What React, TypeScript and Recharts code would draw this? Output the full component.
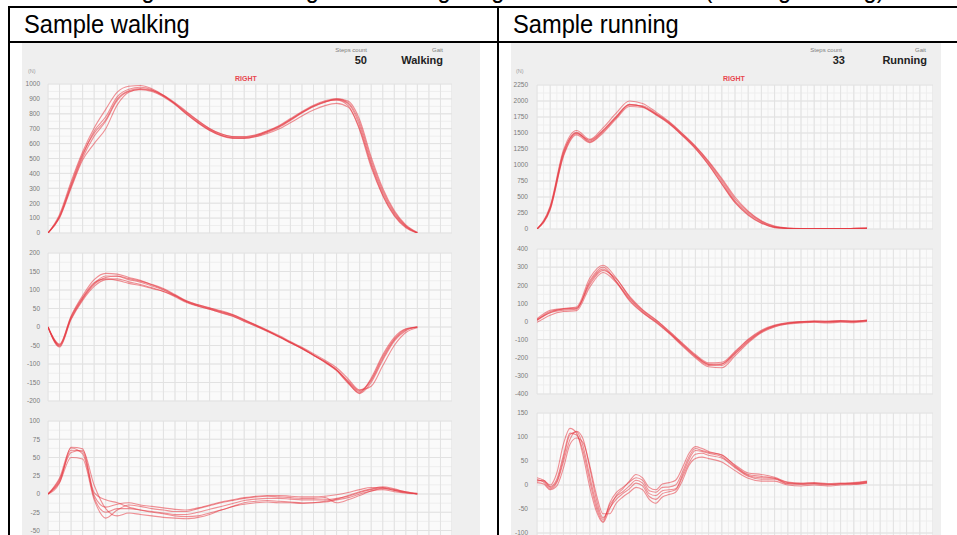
import React from "react";
import { LineChart, Line, XAxis, YAxis, CartesianGrid } from "recharts";

// ---------- Walking (left) ----------
const walkX = [0,1,2,3,4,5,6,7,8,9,10,11,12,13,14,15,16,17,18,19,20,21,22,23,24,25,26,27,28,29,30,31,32];

const walkForce = [
  [0,110,320,520,685,780,915,965,978,962,922,868,805,745,695,658,640,640,653,680,713,760,808,850,880,895,868,720,470,270,130,45,0],
  [0,125,345,545,705,830,945,985,990,968,925,865,798,738,688,652,634,634,648,675,708,755,805,848,878,900,885,760,510,300,150,55,5],
  [0,100,300,490,600,700,860,945,965,955,918,870,810,752,700,664,646,644,656,682,716,762,810,852,882,892,855,690,440,250,115,35,0],
  [0,115,330,530,670,760,900,955,970,958,925,875,815,755,702,666,648,648,660,686,720,768,816,858,888,900,875,740,490,285,140,50,2],
  [0,105,310,505,650,750,890,950,962,950,915,862,798,740,690,655,638,636,646,668,698,740,785,825,855,870,845,700,455,255,120,40,0],
];

const walkShear = [
  [0,-50,25,78,118,138,137,128,121,111,100,85,68,58,50,41,32,18,5,-10,-25,-41,-57,-75,-93,-115,-148,-175,-145,-85,-35,-8,0],
  [0,-48,30,85,128,145,143,134,126,114,102,86,70,60,52,44,34,20,6,-8,-23,-39,-55,-72,-90,-110,-140,-170,-160,-105,-50,-15,-2],
  [0,-54,20,72,110,128,130,122,115,106,96,82,66,56,48,38,29,15,2,-12,-27,-43,-59,-77,-96,-118,-152,-178,-138,-75,-28,-5,0],
  [0,-52,22,75,115,134,138,131,124,115,104,88,71,60,51,42,33,19,5,-10,-26,-42,-58,-76,-94,-117,-150,-180,-150,-90,-38,-10,0],
  [0,-46,28,80,120,130,126,118,112,104,96,84,68,57,48,39,30,16,3,-11,-26,-42,-58,-76,-95,-116,-145,-172,-142,-80,-32,-6,0],
];

const walkLateral = [
  [0,18,60,58,-5,-25,-20,-20,-22,-24,-26,-28,-28,-25,-21,-17,-13,-9,-7,-6,-6,-7,-8,-8,-8,-6,-3,2,6,9,6,3,0],
  [0,15,64,62,2,-8,-12,-18,-22,-25,-27,-30,-31,-30,-26,-22,-17,-12,-10,-9,-10,-11,-12,-12,-11,-8,-5,0,4,8,5,2,0],
  [0,20,57,60,12,-20,-30,-26,-28,-30,-32,-33,-34,-32,-28,-22,-17,-14,-12,-11,-12,-12,-13,-12,-10,-7,-2,3,7,10,7,3,1],
  [0,16,50,48,-8,-33,-22,-15,-17,-20,-22,-24,-24,-20,-16,-12,-9,-6,-4,-3,-4,-5,-6,-6,-5,-12,-8,-2,4,6,3,1,0],
  [0,22,63,55,-2,-18,-14,-12,-15,-17,-19,-21,-22,-19,-15,-11,-8,-5,-3,-2,-2,-3,-4,-4,-3,-1,2,6,9,8,5,2,0],
];

const walkTicks1 = [0,100,200,300,400,500,600,700,800,900,1000];
const walkTicks2 = [-200,-150,-100,-50,0,50,100,150,200];
const walkTicks3 = [-100,-75,-50,-25,0,25,50,75,100];

// ---------- Running (right) ----------
const runX = [0,1,2,3,4,5,6,7,8,9,10,11,12,13,14,15,16,17,18,19,20,21,22,23,24,25];

const runForce = [
  [0,330,1180,1510,1375,1535,1750,1945,1915,1800,1660,1475,1275,1030,740,440,245,110,30,10,5,5,5,5,8,12],
  [0,360,1230,1540,1400,1580,1810,2000,1960,1830,1680,1495,1290,1050,770,470,265,120,38,12,6,5,6,6,9,14],
  [0,300,1130,1470,1350,1500,1720,1915,1900,1785,1645,1465,1260,1005,710,420,225,95,25,8,4,4,5,4,7,10],
  [0,340,1200,1500,1360,1520,1740,1935,1925,1810,1670,1490,1295,1060,790,500,280,130,45,15,7,6,6,6,9,13],
  [0,310,1150,1490,1390,1545,1760,1950,1910,1790,1650,1460,1255,1000,700,410,215,90,22,8,5,4,4,5,7,11],
];

const runShear = [
  [5,50,70,75,215,290,222,127,56,2,-60,-126,-190,-235,-233,-175,-108,-55,-25,-10,-3,0,-2,2,0,5],
  [15,62,72,80,240,310,240,135,62,8,-52,-118,-182,-228,-225,-165,-98,-48,-20,-6,0,3,2,5,3,8],
  [-5,35,55,60,190,270,215,120,50,-5,-66,-134,-200,-250,-255,-190,-118,-62,-30,-14,-8,-4,-8,-4,-6,0],
  [8,55,68,72,205,282,235,140,66,10,-55,-122,-188,-238,-242,-180,-112,-58,-27,-12,-5,-2,-4,0,-2,4],
  [10,48,62,68,225,300,220,115,48,-2,-62,-130,-195,-242,-236,-170,-102,-52,-22,-8,-2,2,0,4,2,6],
];

const runX3 = [0,0.5,1,1.5,2,2.5,3,3.5,4,4.5,5,5.5,6,6.5,7,7.5,8,8.5,9,9.5,10,10.5,11,11.5,12,12.5,13,14,15,16,17,18,19,20,21,22,23,24,25];

const runLateral = [
  [10,8,-5,8,55,105,111,80,18,-40,-72,-42,-24,-14,-2,10,4,-18,-22,-12,-10,-8,20,52,72,70,66,59,38,20,15,14,3,2,3,1,2,3,6],
  [15,10,0,25,85,118,108,60,-5,-55,-78,-50,-22,-8,8,22,15,-5,-10,2,5,10,35,65,80,76,70,62,42,25,22,16,6,4,5,3,4,5,8],
  [5,2,-10,-2,35,85,98,88,40,-20,-60,-60,-38,-25,-15,-5,-10,-30,-38,-25,-20,-15,8,40,55,58,55,48,30,14,8,8,0,-2,0,-2,0,1,4],
  [12,6,-8,5,48,95,112,95,35,-30,-68,-48,-30,-18,-8,4,-2,-24,-30,-18,-14,-10,15,45,64,66,62,56,36,18,12,12,2,1,2,0,2,2,5],
  [8,10,-3,12,62,108,104,70,8,-48,-76,-38,-16,-5,6,15,10,-12,-15,-5,-4,0,26,58,76,72,68,63,40,22,18,14,5,3,4,2,3,4,7],
];

const runTicks1 = [0,250,500,750,1000,1250,1500,1750,2000,2250];
const runTicks2 = [-400,-300,-200,-100,0,100,200,300,400];
const runTicks3 = [-150,-100,-50,0,50,100,150];

// ---------- helpers ----------
function steps(a: number, b: number, s: number): number[] {
  const out: number[] = [];
  for (let v = a; v <= b + 1e-9; v += s) out.push(Math.round(v * 1000) / 1000);
  return out;
}

const FONT = "'Liberation Sans', Arial, Helvetica, sans-serif";
const LINE = "#e5363f";

type Spec = {
  plotLeft: number; plotTop: number; plotW: number; plotH: number;
  yw: number; gap: number;
  xs: number[]; series: number[][];
  xMax: number; xMajorStep: number; xMinorStep: number;
  yDomain: [number, number]; yTicks: number[]; yMinorStep: number;
};

function Trace({ s }: { s: Spec }) {
  const rows = s.xs.map((x, i) => {
    const r: Record<string, number> = { x };
    s.series.forEach((arr, k) => { r["t" + k] = arr[i]; });
    return r;
  });
  const mt = 6, mb = 6;
  const [y0, y1] = s.yDomain;
  const yPx = (v: number) => mt + ((y1 - v) / (y1 - y0)) * s.plotH;
  const xPx = (u: number) => s.yw + (u / s.xMax) * s.plotW;
  const hMinor = steps(y0, y1, s.yMinorStep).map(yPx);
  const hMajor = s.yTicks.map(yPx);
  const vMinor = steps(0, s.xMax, s.xMinorStep).map(xPx);
  const vMajor = steps(0, s.xMax, s.xMajorStep).map(xPx);
  return (
    <div style={{ position: "absolute", left: s.plotLeft - s.yw, top: s.plotTop - mt }}>
      <LineChart width={s.yw + s.plotW} height={s.plotH + mt + mb} data={rows}
        margin={{ top: mt, right: 0, bottom: mb, left: 0 }}>
        <CartesianGrid fill="#fafafa" fillOpacity={1} stroke="#eeeeee" strokeWidth={1}
          horizontalPoints={hMinor} verticalPoints={vMinor} />
        <CartesianGrid stroke="#e2e2e2" strokeWidth={1}
          horizontalPoints={hMajor} verticalPoints={vMajor} />
        <XAxis type="number" dataKey="x" domain={[0, s.xMax]} hide allowDataOverflow />
        <YAxis type="number" domain={s.yDomain} ticks={s.yTicks} interval={0} width={s.yw}
          tickSize={0} tickMargin={s.gap} axisLine={false} tickLine={false} allowDataOverflow
          tick={{ fontSize: 6.5, fill: "#7a7a7a", fontFamily: FONT }} />
        {s.series.map((_, k) => (
          <Line key={k} dataKey={"t" + k} type="monotone" stroke={LINE} strokeWidth={1.1}
            strokeOpacity={0.55} dot={false} activeDot={false} isAnimationActive={false} />
        ))}
      </LineChart>
    </div>
  );
}

function Txt({ children, left, right, cy, size, bold, color }: {
  children: React.ReactNode; left?: number; right?: number; cy: number; size: number; bold?: boolean; color: string;
}) {
  const style: React.CSSProperties = {
    position: "absolute", top: cy - size / 2, fontSize: size, lineHeight: size + "px",
    fontFamily: FONT, fontWeight: bold ? 700 : 400, color, whiteSpace: "nowrap",
  };
  if (left !== undefined) style.left = left;
  if (right !== undefined) { style.right = 957 - right; style.textAlign = "right"; }
  return <div style={style}>{children}</div>;
}

function Header({ text, left, top }: { text: string; left: number; top: number }) {
  return (
    <div style={{
      position: "absolute", left, top, fontSize: 26, lineHeight: "26px", fontFamily: FONT,
      color: "#000", whiteSpace: "nowrap", transform: "scaleX(0.91)", transformOrigin: "left top",
    }}>{text}</div>
  );
}

export default function App() {
  const L = { plotLeft: 48, plotW: 404, yw: 26, gap: 8, xMax: 35, xMajorStep: 1, xMinorStep: 1 };
  const R = { plotLeft: 537, plotW: 396, yw: 26, gap: 9, xMax: 30, xMajorStep: 1, xMinorStep: 0.5 };

  const charts: Spec[] = [
    { ...L, plotTop: 84, plotH: 149, xs: walkX, series: walkForce, yDomain: [0, 1000], yTicks: walkTicks1, yMinorStep: 50 },
    { ...L, plotTop: 253, plotH: 148, xs: walkX, series: walkShear, yDomain: [-200, 200], yTicks: walkTicks2, yMinorStep: 25 },
    { ...L, plotTop: 421, plotH: 146, xs: walkX, series: walkLateral, yDomain: [-100, 100], yTicks: walkTicks3, yMinorStep: 12.5 },
    { ...R, plotTop: 85, plotH: 144, xs: runX, series: runForce, yDomain: [0, 2250], yTicks: runTicks1, yMinorStep: 125 },
    { ...R, plotTop: 249, plotH: 145, xs: runX, series: runShear, yDomain: [-400, 400], yTicks: runTicks2, yMinorStep: 50 },
    { ...R, plotTop: 413, plotH: 144, xs: runX3, series: runLateral, yDomain: [-150, 150], yTicks: runTicks3, yMinorStep: 25 },
  ];

  return (
    <div style={{ position: "fixed", left: 0, top: 0, width: 957, height: 535, overflow: "hidden", background: "#fff" }}>
      {/* cropped caption above the table */}
      <div style={{
        position: "absolute", right: 957 - 885, top: -24, fontSize: 26, lineHeight: "26px", fontFamily: FONT,
        whiteSpace: "nowrap", transform: "scaleX(0.91)", transformOrigin: "right top", color: "#000",
      }}>Diagrams of walking and running for gait mode detection (running/walking)</div>

      {/* table borders */}
      <div style={{ position: "absolute", left: 8, top: 6, width: 949, height: 2, background: "#000" }} />
      <div style={{ position: "absolute", left: 8, top: 41, width: 949, height: 2, background: "#000" }} />
      <div style={{ position: "absolute", left: 8, top: 6, width: 2, height: 529, background: "#000" }} />
      <div style={{ position: "absolute", left: 497, top: 6, width: 2, height: 529, background: "#000" }} />

      <Header text="Sample walking" left={24} top={11} />
      <Header text="Sample running" left={513} top={11} />

      {/* screenshot panels */}
      <div style={{ position: "absolute", left: 22, top: 43, width: 458, height: 492, background: "#efefef" }} />
      <div style={{ position: "absolute", left: 511, top: 43, width: 430, height: 492, background: "#efefef" }} />

      {/* left panel texts */}
      <Txt right={367} cy={50} size={6} color="#808080">Steps count</Txt>
      <Txt right={367} cy={60} size={11} bold color="#222">50</Txt>
      <Txt right={443} cy={50} size={6} color="#808080">Gait</Txt>
      <Txt right={443} cy={60} size={11} bold color="#222">Walking</Txt>
      <Txt left={28} cy={72} size={5.5} color="#a0a0a0">(N)</Txt>
      <Txt left={235} cy={78} size={7} bold color="#e8464e">RIGHT</Txt>

      {/* right panel texts */}
      <Txt right={842} cy={50} size={6} color="#808080">Steps count</Txt>
      <Txt right={845} cy={60} size={11} bold color="#222">33</Txt>
      <Txt right={926} cy={50} size={6} color="#808080">Gait</Txt>
      <Txt right={927} cy={60} size={11} bold color="#222">Running</Txt>
      <Txt left={516} cy={72} size={5.5} color="#a0a0a0">(N)</Txt>
      <Txt left={723} cy={78} size={7} bold color="#e8464e">RIGHT</Txt>

      {charts.map((c, i) => <Trace key={i} s={c} />)}
    </div>
  );
}
